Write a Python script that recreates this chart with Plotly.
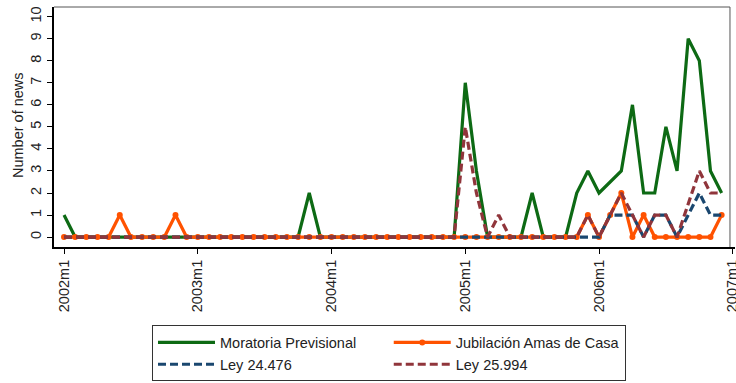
import plotly.graph_objects as go

# Monthly series 2002m1 .. 2006m12 (month index 0..59)
months = list(range(60))
tick_months = [0, 12, 24, 36, 48, 60]
tick_labels = ["2002m1", "2003m1", "2004m1", "2005m1", "2006m1", "2007m1"]
y_ticks = list(range(0, 11))

moratoria = [1] + [0]*21 + [2] + [0]*13 + [7, 3] + [0]*4 + [2] + [0]*3 + \
    [2, 3, 2, 2.5, 3, 6, 2, 2, 5, 3, 9, 8, 3, 2]
jubilacion = [0]*5 + [1] + [0]*4 + [1] + [0]*36 + [1, 0, 1, 2, 0, 1] + [0]*6 + [1]
ley24476 = [0]*49 + [1, 1, 1, 0, 1, 1, 0, 1, 2, 1, 1]
ley25994 = [0]*36 + [5, 2, 0, 1] + [0]*7 + [1, 0, 1, 2, 1, 0, 1, 1, 0, 1.5, 3, 2, 2]

GREEN = "#0d6a14"
ORANGE = "#ff5200"
NAVY = "#1a476f"
MAROON = "#90353b"

fig = go.Figure()
fig.add_trace(go.Scatter(x=months, y=moratoria, mode="lines", name="Moratoria Previsional",
                         line=dict(color=GREEN, width=3.2)))
fig.add_trace(go.Scatter(x=months, y=jubilacion, mode="lines+markers", name="Jubilación Amas de Casa",
                         line=dict(color=ORANGE, width=3.2), marker=dict(size=6, color=ORANGE)))
fig.add_trace(go.Scatter(x=months, y=ley24476, mode="lines", name="Ley 24.476",
                         line=dict(color=NAVY, width=3.2, dash="8px,4px")))
fig.add_trace(go.Scatter(x=months, y=ley25994, mode="lines", name="Ley 25.994",
                         line=dict(color=MAROON, width=3.2, dash="8px,4px")))

font = "Liberation Sans, Arial, sans-serif"
FS = 14.5

fig.update_layout(
    width=736, height=383,
    margin=dict(l=54, r=1, t=7, b=136),
    paper_bgcolor="white", plot_bgcolor="white",
    font=dict(family=font, size=FS, color="#222"),
    showlegend=True,
    legend=dict(orientation="h", x=0.1439, xanchor="left", y=-0.327, yanchor="top",
                bordercolor="#333", borderwidth=1, bgcolor="white",
                itemwidth=57, font=dict(size=FS, family=font),
                tracegroupgap=0),
    xaxis=dict(range=[-0.9, 60.2], tickvals=tick_months, ticktext=tick_labels,
               tickangle=-90, ticks="outside", ticklen=5, tickwidth=1, tickcolor="black",
               showline=True, linecolor="black", linewidth=2, showgrid=False, zeroline=False,
               automargin=False, ticklabeloverflow="allow", tickfont=dict(size=FS, family=font)),
    yaxis=dict(range=[-0.45, 10.44], tickvals=y_ticks, tickangle=-90,
               ticks="outside", ticklen=5, tickwidth=1, tickcolor="black",
               showline=True, linecolor="black", linewidth=1.5, showgrid=False, zeroline=False,
               automargin=False, tickfont=dict(size=FS, family=font)),
    annotations=[dict(text="Number of news", xref="paper", yref="paper",
                      x=(18 - 54) / 681, y=(247 - 125) / 240, textangle=-90,
                      xanchor="center", yanchor="middle",
                      showarrow=False, font=dict(size=FS, family=font, color="#222"))],
)

# Plot-region frame (top and right edges)
fig.add_shape(type="line", xref="x", yref="paper", x0=-0.9, x1=59.75, y0=1, y1=1,
              line=dict(color="#555", width=1))
fig.add_shape(type="line", xref="x", yref="paper", x0=59.75, x1=59.75, y0=0, y1=1,
              line=dict(color="#555", width=1))

fig.write_html("out.html", config={"displayModeBar": False},
               post_script="document.body.style.margin='0px';document.body.style.overflow='hidden';")
